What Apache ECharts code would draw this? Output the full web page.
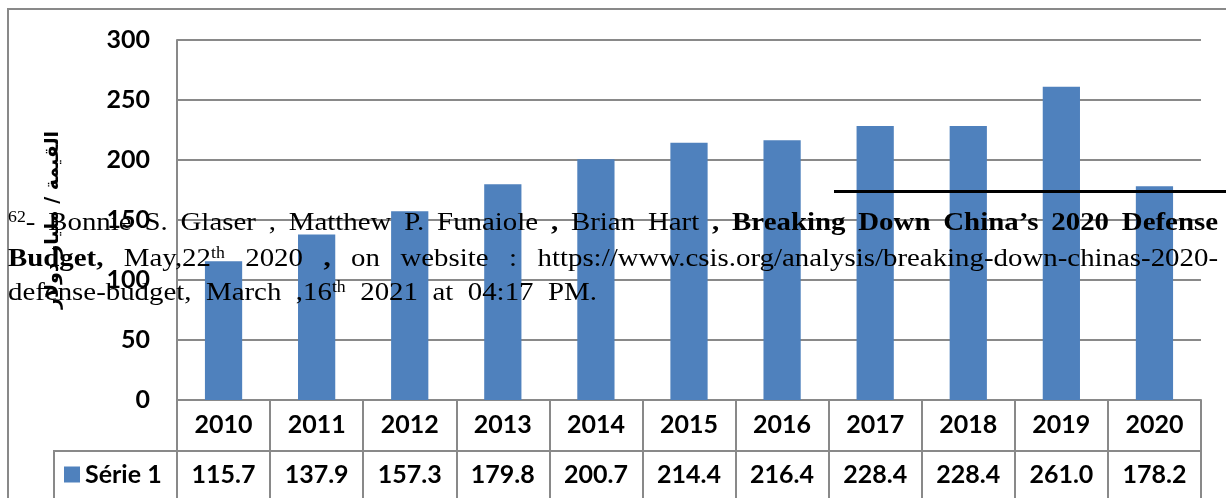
<!DOCTYPE html>
<html>
<head>
<meta charset="utf-8">
<script src="https://cdn.jsdelivr.net/npm/echarts@6/dist/echarts.min.js"></script>
<style>
html,body{margin:0;padding:0;background:#fff;}
#c{width:1226px;height:498px;}
</style>
</head>
<body>
<div id="c"></div>
<script>
// ---------- data ----------
const categories = ['2010','2011','2012','2013','2014','2015','2016','2017','2018','2019','2020'];
const values = [115.7, 137.9, 157.3, 179.8, 200.7, 214.4, 216.4, 228.4, 228.4, 261.0, 178.2];
const seriesName = 'Série 1';
const yAxisName = 'القيمة / مليار دولار';
const yMin = 0, yMax = 300, yInterval = 50;

// footnote text (overlaid in the source picture)
const footLine1 = [
  [{t:'62',sup:true},{t:'-'}],[{t:'Bonnie'}],[{t:'S.'}],[{t:'Glaser'}],[{t:','}],
  [{t:'Matthew'}],[{t:'P.'}],[{t:'Funaiole'}],[{t:',',b:true}],[{t:'Brian'}],[{t:'Hart'}],
  [{t:',',b:true}],[{t:'Breaking',b:true}],[{t:'Down',b:true}],[{t:'China’s',b:true}],
  [{t:'2020',b:true}],[{t:'Defense',b:true}]
];
const footLine2 = [
  [{t:'Budget,',b:true}],[{t:'May,22'},{t:'th',sup:true}],[{t:'2020'}],[{t:',',b:true}],
  [{t:'on'}],[{t:'website'}],[{t:':'}],[{t:'https://www.csis.org/analysis/breaking-down-chinas-2020-'}]
];
const footLine3 = [
  [{t:'defense-budget,'}],[{t:'March'}],[{t:',16'},{t:'th',sup:true}],[{t:'2021'}],
  [{t:'at'}],[{t:'04:17'}],[{t:'PM.'}]
];

// ---------- style ----------
const GRAY = '#898989';
const BLUE = '#4F81BD';
const LABEL_FONT = 'Lato';
const FS = 26, SUP = 16, SX = 1.11;
const FOOT_FAMILY = '"Liberation Serif", "Times New Roman", serif';

const chart = echarts.init(document.getElementById('c'), null, {renderer:'canvas'});

const mctx = document.createElement('canvas').getContext('2d');
function fontOf(r){ return (r.b ? 'bold ' : '') + (r.sup ? SUP : FS) + 'px ' + FOOT_FAMILY; }
function widthOf(r){ mctx.font = fontOf(r); return mctx.measureText(r.t).width * SX; }

function layoutLine(words, left, right, baseline, justify){
  const out = [];
  const wordW = words.map(w => w.reduce((s,r)=>s+widthOf(r),0));
  const total = wordW.reduce((a,b)=>a+b,0);
  const gap = justify && words.length>1 ? (right-left-total)/(words.length-1) : 14.5;
  let x = left;
  words.forEach((w)=>{
    w.forEach(r=>{
      const size = r.sup ? SUP : FS;
      const bl = r.sup ? baseline - 0.33*FS : baseline;
      out.push({
        type:'text', z:100, silent:true,
        x:x, y: bl - 0.34*size, scaleX:SX,
        style:{text:r.t, font:fontOf(r), fill:'#000', align:'left', verticalAlign:'middle'}
      });
      x += widthOf(r);
    });
    x += gap;
  });
  return out;
}

const footGraphics = []
  .concat(layoutLine(footLine1, 8, 1218, 232, true))
  .concat(layoutLine(footLine2, 8, 1218, 268, true))
  .concat(layoutLine(footLine3, 8, 1218, 302, false));

const labelStyle = {color:'#000', fontWeight:'bold', fontSize:25, fontFamily:LABEL_FONT};

const option = {
  backgroundColor:'#fff',
  animation:false,
  grid:{left:177, right:25, top:40, bottom:98, containLabel:false},
  legend:{
    data:[seriesName], left:64, top:462, padding:0,
    icon:'rect', itemWidth:16, itemHeight:16,
    textStyle:Object.assign({lineHeight:25}, labelStyle)
  },
  xAxis:[{
    type:'category', data:categories, position:'bottom',
    axisLine:{show:true, lineStyle:{color:GRAY, width:2}},
    axisTick:{show:true, interval:0, length:98, lineStyle:{color:GRAY, width:2}},
    axisLabel:Object.assign({margin:12, lineHeight:25, interval:0}, labelStyle),
    splitLine:{show:false}
  },{
    type:'category', data:values.map(v=>v.toFixed(1)), position:'bottom', offset:50,
    axisLine:{show:false}, axisTick:{show:false},
    axisLabel:Object.assign({margin:12, lineHeight:25, interval:0}, labelStyle),
    splitLine:{show:false}
  }],
  yAxis:{
    type:'value', min:yMin, max:yMax, interval:yInterval,
    name:yAxisName, nameLocation:'middle', nameRotate:90, nameGap:114,
    nameTextStyle:{color:'#000', fontWeight:'bold', fontSize:19, fontFamily:'"DejaVu Sans"'},
    axisLine:{show:true, lineStyle:{color:GRAY, width:2}},
    axisTick:{show:false},
    axisLabel:Object.assign({margin:27}, labelStyle),
    splitLine:{show:true, lineStyle:{color:GRAY, width:2}}
  },
  series:[{
    name:seriesName, type:'bar', data:values, xAxisIndex:0,
    barCategoryGap:'60%',
    itemStyle:{color:BLUE}
  }],
  graphic:[
    {type:'rect', z:0, silent:true, shape:{x:8, y:9, width:1240, height:520},
     style:{fill:'none', stroke:GRAY, lineWidth:2}},
    {type:'polyline', z:5, silent:true, shape:{points:[[54,500],[54,451],[1201,451]]},
     style:{fill:'none', stroke:GRAY, lineWidth:2}},
    {type:'line', z:100, silent:true, shape:{x1:834, y1:191.5, x2:1226, y2:191.5},
     style:{stroke:'#000', lineWidth:3}}
  ].concat(footGraphics)
};
chart.setOption(option);
</script>
</body>
</html>
